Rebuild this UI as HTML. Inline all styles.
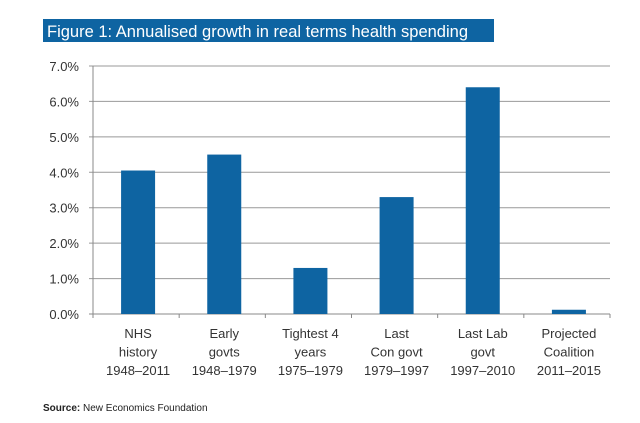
<!DOCTYPE html>
<html><head><meta charset="utf-8"><style>
body{margin:0;background:#fff;width:640px;height:418px;overflow:hidden;font-family:"Liberation Sans",sans-serif}
</style></head><body>
<svg width="640" height="418" xmlns="http://www.w3.org/2000/svg">
<rect x="43" y="19" width="451" height="23" fill="#0e64a2"/>
<text x="47" y="37" font-size="16.5" fill="#fff">Figure 1: Annualised growth in real terms health spending</text>
<g id="grid"></g><g id="bars"></g><g id="labels"></g>
<text x="43" y="411" font-size="10" fill="#222"><tspan font-weight="bold">Source:</tspan> New Economics Foundation</text>
</svg>
<script>
const categories=[["NHS","history","1948–2011"],["Early","govts","1948–1979"],["Tightest 4","years","1975–1979"],["Last","Con govt","1979–1997"],["Last Lab","govt","1997–2010"],["Projected","Coalition","2011–2015"]];
const values=[4.05,4.5,1.3,3.3,6.4,0.12];
const ticks=[0,1,2,3,4,5,6,7];
const tickLabels=["0.0%","1.0%","2.0%","3.0%","4.0%","5.0%","6.0%","7.0%"];
const NS="http://www.w3.org/2000/svg";
const x0=93,x1=610,y0=314,yTop=66,ymax=7;
const y=v=>y0-(v/ymax)*(y0-yTop);
const bw=(x1-x0)/categories.length;
const xc=i=>x0+bw*(i+0.5)+2;
function mk(t,a,p){const e=document.createElementNS(NS,t);for(const k in a)e.setAttribute(k,a[k]);p.appendChild(e);return e;}
const g=document.getElementById('grid'),b=document.getElementById('bars'),l=document.getElementById('labels');
ticks.forEach((t,i)=>{
 const ln=mk('line',{x1:x0-4,x2:x1,y1:y(t),y2:y(t),stroke:t===0?'#888':'#999','stroke-width':1},g);
 
 
 const tx=mk('text',{x:79,y:y(t)+5,'font-size':13,fill:'#333','text-anchor':'end'},l);
 tx.textContent=tickLabels[i];
 
 
});
const ax=mk('line',{x1:x0,x2:x0,y1:yTop,y2:y0+4,stroke:'#888'},g);


for(let i=0;i<=categories.length;i++){const tk=mk('line',{x1:x0+bw*i,x2:x0+bw*i,y1:y0,y2:y0+4,stroke:'#888'},g);
 
 }
values.forEach((v,i)=>{
 const r=mk('rect',{x:xc(i)-17,y:y(v),width:34,height:y0-y(v),fill:'#0e64a2'},b);
 
 
 categories[i].forEach((s,j)=>{
  const t=mk('text',{x:xc(i),y:338+j*18.5,'font-size':13,fill:'#333','text-anchor':'middle'},l);
  t.textContent=s;
  
  
 });
});
</script>
</body></html>
